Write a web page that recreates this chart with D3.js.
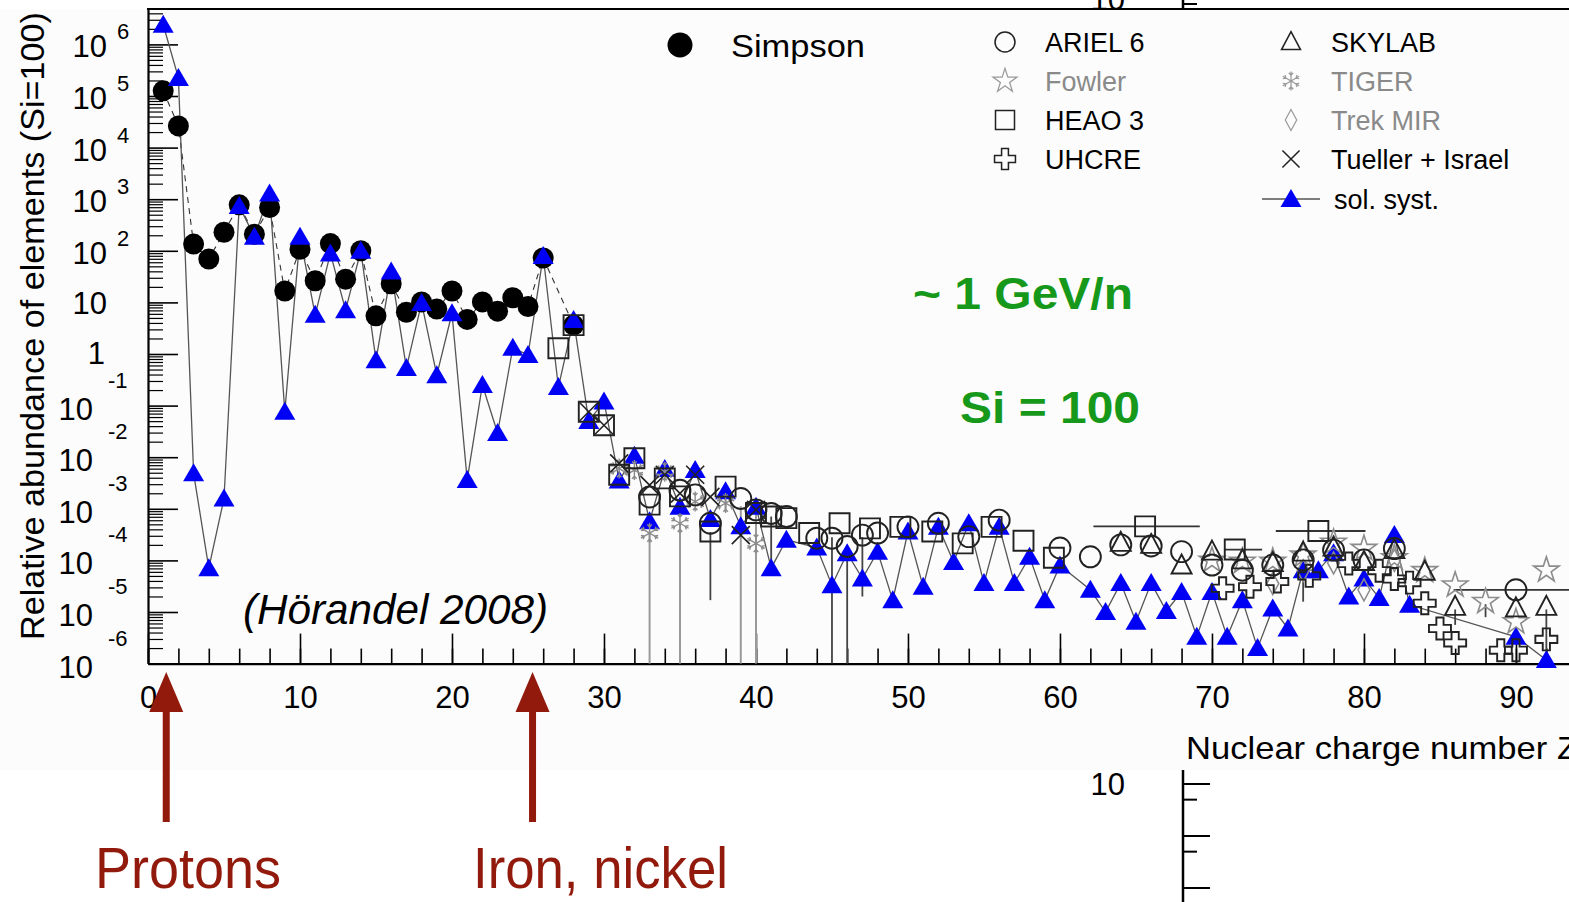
<!DOCTYPE html>
<html>
<head>
<meta charset="utf-8">
<script src="https://cdn.jsdelivr.net/npm/d3@7"></script>
<style>
  html, body { margin: 0; padding: 0; background: #fff; }
  svg { display: block; }
  text { font-family: "Liberation Sans", Arial, Helvetica, sans-serif; }
</style>
</head>
<body>
<svg id="chart" width="1569" height="902"></svg>
<script>
// Relative abundances, [Z, log10(abundance)] with Si = 100.
const solarSystem = [
  [1, 6.38], [2, 5.35], [3, -2.31], [4, -4.15], [5, -2.80], [6, 2.87], [7, 2.27],
  [8, 3.11], [9, -1.12], [10, 2.27], [11, 0.76], [12, 1.95], [13, 0.85], [14, 2.0],
  [15, -0.12], [16, 1.6], [17, -0.27], [18, 0.99], [19, -0.41], [20, 0.79], [21, -2.44],
  [22, -0.6], [23, -1.53], [24, 0.12], [25, -0.02], [26, 1.9], [27, -0.64], [28, 0.66],
  [29, -1.3], [30, -0.92], [31, -2.45], [32, -1.97], [33, -3.24], [34, -2.23], [35, -2.96],
  [36, -2.25], [37, -3.2], [38, -2.66], [39, -3.34], [40, -2.96], [41, -4.15], [42, -3.6],
  [44, -3.75], [45, -4.48], [46, -3.86], [47, -4.35], [48, -3.83], [49, -4.77], [50, -3.44],
  [51, -4.51], [52, -3.35], [53, -4.03], [54, -3.28], [55, -4.44], [56, -3.35], [57, -4.44],
  [58, -3.93], [59, -4.77], [60, -4.1], [62, -4.57], [63, -5.0], [64, -4.44], [65, -5.19],
  [66, -4.44], [67, -4.98], [68, -4.61], [69, -5.48], [70, -4.61], [71, -5.48], [72, -4.77],
  [73, -5.70], [74, -4.93], [75, -5.32], [76, -4.19], [77, -4.19], [78, -3.86], [79, -4.70],
  [80, -4.35], [81, -4.73], [82, -3.51], [83, -4.86], [90, -5.48], [92, -5.93]
];

const simpson = [
  [1, 5.10], [2, 4.42], [3, 2.13], [4, 1.84], [5, 2.36], [6, 2.89], [7, 2.32], [8, 2.84],
  [9, 1.22], [10, 2.03], [11, 1.42], [12, 2.14], [13, 1.45], [14, 2.0], [15, 0.74],
  [16, 1.36], [17, 0.81], [18, 1.01], [19, 0.87], [20, 1.22], [21, 0.67], [22, 1.01],
  [23, 0.83], [24, 1.09], [25, 0.92], [26, 1.86], [28, 0.56]
];

const heao3 = [
  [27, 0.11], [28, 0.56], [29, -1.12], [30, -1.38], [31, -2.34], [32, -2.02], [33, -2.92],
  [34, -2.41], [35, -2.76], [37, -3.44], [38, -2.57], [40, -3.08], [41, -3.15], [42, -3.18],
  [43.5, -3.47], [45.5, -3.28], [47.5, -3.38], [49.5, -3.35], [51.6, -3.44], [53.6, -3.67],
  [55.5, -3.35], [57.6, -3.62], [59.6, -3.95], [65.6, -3.34], [71.5, -3.79], [77, -3.43]
];
// Charge ranges of the combined HEAO 3 bins: [Z, Zlow, Zhigh].
const heao3Ranges = [[65.6, 62.2, 69.2], [71.5, 70.8, 73.3], [77, 74.2, 80.1]];

const ariel6 = [
  [33, -2.77], [35, -2.64], [36, -2.73], [37, -3.28], [39, -2.8], [40, -3.02], [41, -3.09],
  [42, -3.15], [44, -3.57], [45, -3.57], [46, -3.73], [47, -3.51], [48, -3.47], [50, -3.35],
  [52, -3.28], [54, -3.54], [56, -3.22], [60, -3.76], [62, -3.93], [64, -3.70], [66, -3.72],
  [68, -3.83], [70, -4.09], [72, -4.19], [74, -4.09], [76, -3.99], [78, -3.8], [80, -3.99],
  [82, -3.77], [90, -4.57]
];
const ariel6Ranges = [[90, 85.9, 96]];

const fowler = [
  [70, -4.0], [72, -4.02], [74, -4.02], [76, -3.9], [78, -3.65], [80, -3.77], [82, -3.95],
  [84, -4.2], [86, -4.48], [88, -4.8], [90, -5.19], [92, -4.19]
];

const uhcre = [
  [70.7, -4.54], [72.5, -4.51], [74.3, -4.41], [76.4, -4.3], [79, -4.06], [81, -4.2],
  [82, -4.36], [83, -4.43], [84, -4.83], [85, -5.32], [86, -5.6], [89, -5.74], [90, -5.74],
  [92, -5.53]
];

const skylab = [
  [64, -3.66], [66, -3.70], [68, -4.1], [70, -3.83], [72, -4.0], [74, -4.05], [76, -3.85],
  [78, -3.75], [80, -4.03], [82, -3.8], [84, -4.22], [86, -4.9], [90, -4.93], [92, -4.9]
];

const tiger = [
  [31, -2.22], [32, -2.25], [33, -3.47], [34, -2.28], [35, -3.28], [36, -2.86], [38, -2.89],
  [40, -3.67]
];

const trekMir = [[74, -4.45], [76, -4.2], [78, -4.05], [80, -4.57], [82, -4.0]];

const tuellerIsrael = [
  [29, -1.12], [30, -1.38], [31, -2.12], [33, -2.54], [34, -2.34], [35, -2.7], [36, -2.34],
  [37, -2.77], [39, -3.51], [40, -3.02]
];

// Vertical uncertainty bars, [Z, log10 low, log10 high].
const tigerBars = [[33, -6, -3.45], [35, -6, -3.25], [39, -6, -2.95], [40, -6, -3.0], [38, -3.05, -2.75]];
const otherBars = [
  [45, -6, -3.55], [46, -6, -3.7], [37, -4.77, -3.45], [41, -4.0, -3.15], [47, -4.7, -3.55],
  [76, -4.8, -4.0], [86, -5.25, -4.95], [88, -5.1, -4.85], [92, -5.75, -4.95]
];

const xTickLabels = d3.range(0, 91, 10);
const yDecades = d3.range(-6, 7);

const legendRows = [
  {label: 'ARIEL 6', shape: 'circle', grey: false, col: 0},
  {label: 'Fowler', shape: 'star', grey: true, col: 0},
  {label: 'HEAO 3', shape: 'square', grey: false, col: 0},
  {label: 'UHCRE', shape: 'plus', grey: false, col: 0},
  {label: 'SKYLAB', shape: 'openTri', grey: false, col: 1},
  {label: 'TIGER', shape: 'flake', grey: true, col: 1},
  {label: 'Trek MIR', shape: 'diamond', grey: true, col: 1},
  {label: 'Tueller + Israel', shape: 'cross', grey: false, col: 1},
];

const svg = d3.select('#chart');
const GREY = '#8c8c8c';
const BLUE = '#0000f5';
const RED = '#921a0c';

// ---- second axis sitting behind the main panel ----
const yBack = d3.scaleLog().domain([1e-9, 1e-7]).range([888, 784]);
const back = svg.append('g');
back.append('line').attr('x1', 1183).attr('x2', 1183).attr('y1', 0).attr('y2', 902)
    .attr('stroke', '#000').attr('stroke-width', 2.5);
back.selectAll('.bt').data([1e-9, 5e-9, 1e-8, 5e-8, 1e-7]).join('line')
    .attr('x1', 1183).attr('y1', d => yBack(d)).attr('y2', d => yBack(d))
    .attr('x2', d => (String(d)[0] === '1' ? 1210 : 1197))
    .attr('stroke', '#000').attr('stroke-width', 2);
back.append('text').attr('x', 1125).attr('y', yBack(1e-7) + 11)
    .attr('text-anchor', 'end').attr('font-size', 31).text('10');
back.append('text').attr('x', 1130).attr('y', yBack(1e-7) - 17)
    .attr('font-size', 22).text('-7');
back.append('text').attr('x', 1125).attr('y', 10).attr('text-anchor', 'end')
    .attr('font-size', 31).text('10');
back.append('line').attr('x1', 1183).attr('x2', 1197).attr('y1', 4).attr('y2', 4)
    .attr('stroke', '#000').attr('stroke-width', 2);

// ---- main panel ----
svg.append('rect').attr('x', 0).attr('y', 9).attr('width', 1569).attr('height', 761)
    .attr('fill', '#fcfcfc');

const x = d3.scaleLinear().domain([0, 93.49]).range([148, 1569]);
const y = d3.scaleLog().domain([1e-6, Math.pow(10, 6.686)]).range([663.6, 9]);
const yv = lg => y(Math.pow(10, lg));

// axes
const minorX = d3.range(0, 94, 2);
svg.append('g').attr('transform', 'translate(0,663.6)')
    .call(d3.axisBottom(x).tickValues(minorX).tickSize(-15).tickSizeOuter(0).tickFormat(''))
    .call(g => g.select('.domain').remove());
const xAxis = svg.append('g').attr('transform', 'translate(0,663.6)')
    .call(d3.axisBottom(x).tickValues(xTickLabels).tickSize(-30).tickSizeOuter(0)
        .tickPadding(22).tickFormat(d3.format('d')));
xAxis.select('.domain').attr('stroke-width', 2.2);
xAxis.selectAll('text').attr('font-size', 31).attr('fill', '#000')
    .attr('font-family', '"Liberation Sans", Arial, sans-serif');
svg.selectAll('.tick line').attr('stroke-width', 1.6);

const minorY = [];
yDecades.concat([7]).forEach(n => {
  for (let m = 2; m <= 9; m++) {
    const v = m * Math.pow(10, n - 1);
    if (v > 1e-6 && v < Math.pow(10, 6.686)) minorY.push(v);
  }
});
svg.append('g').attr('transform', 'translate(148,0)')
    .call(d3.axisLeft(y).tickValues(minorY).tickSize(-15).tickSizeOuter(0).tickFormat(''))
    .call(g => g.select('.domain').remove())
    .selectAll('line').attr('stroke-width', 1.2);
const yAxis = svg.append('g').attr('transform', 'translate(148,0)')
    .call(d3.axisLeft(y).tickValues(yDecades.map(n => Math.pow(10, n)))
        .tickSize(-30).tickSizeOuter(0).tickFormat(''));
yAxis.select('.domain').attr('stroke-width', 2.2);
yAxis.selectAll('line').attr('stroke-width', 1.6);

svg.append('line').attr('x1', 147).attr('x2', 1569).attr('y1', 9).attr('y2', 9)
    .attr('stroke', '#000').attr('stroke-width', 2.2);

// decade labels written as 10 with a raised exponent
const yLab = svg.append('g').attr('fill', '#000');
yDecades.forEach(n => {
  const ty = y(Math.pow(10, n));
  if (n === 0) {
    yLab.append('text').attr('x', 105).attr('y', ty + 10).attr('text-anchor', 'end')
        .attr('font-size', 31).text('1');
  } else if (n === 1) {
    yLab.append('text').attr('x', 107).attr('y', ty + 12).attr('text-anchor', 'end')
        .attr('font-size', 31).text('10');
  } else if (n > 1) {
    yLab.append('text').attr('x', 107).attr('y', ty + 13).attr('text-anchor', 'end')
        .attr('font-size', 31).text('10');
    yLab.append('text').attr('x', 117).attr('y', ty - 5).attr('font-size', 22).text(n);
  } else {
    yLab.append('text').attr('x', 93).attr('y', ty + 14).attr('text-anchor', 'end')
        .attr('font-size', 31).text('10');
    yLab.append('text').attr('x', 108).attr('y', ty - 18).attr('font-size', 22).text(n);
  }
});

svg.append('text')
    .attr('transform', 'translate(44,326) rotate(-90)')
    .attr('text-anchor', 'middle').attr('font-size', 33)
    .attr('textLength', 628).attr('lengthAdjust', 'spacingAndGlyphs')
    .text('Relative abundance of elements (Si=100)');

// ---- marker shapes ----
function flakePath() {
  const p = d3.path();
  for (let k = 0; k < 6; k++) {
    const a = Math.PI / 2 + k * Math.PI / 3;
    const ex = 10 * Math.cos(a), ey = -10 * Math.sin(a);
    p.moveTo(0, 0); p.lineTo(ex, ey);
    const bx = 6 * Math.cos(a), by = -6 * Math.sin(a);
    [-0.7, 0.7].forEach(o => {
      p.moveTo(bx, by);
      p.lineTo(bx + 3.5 * Math.cos(a + o), by - 3.5 * Math.sin(a + o));
    });
  }
  return p.toString();
}
const shapes = {
  circle: 'M10.5,0A10.5,10.5 0 1,1 -10.5,0A10.5,10.5 0 1,1 10.5,0Z',
  square: 'M-10,-10H10V10H-10Z',
  openTri: 'M0,-11L10,8L-10,8Z',
  plus: 'M-3.6,-11H3.6V-3.6H11V3.6H3.6V11H-3.6V3.6H-11V-3.6H-3.6Z',
  star: d3.symbol(d3.symbolStar, 200)(),
  diamond: 'M0,-11L6,0L0,11L-6,0Z',
  cross: 'M-9,-9L9,9M9,-9L-9,9',
  flake: flakePath(),
  tri: 'M0,-10L10.5,8L-10.5,8Z'
};

function drawOpen(data, shape, colour, width) {
  svg.append('g').selectAll('path').data(data).join('path')
      .attr('transform', d => `translate(${x(d[0])},${yv(d[1])})`)
      .attr('d', shapes[shape])
      .attr('fill', 'none').attr('stroke', colour).attr('stroke-width', width);
}

// ---- connecting lines ----
const line = d3.line().x(d => x(d[0])).y(d => yv(d[1]));
svg.append('path').datum(simpson).attr('d', line).attr('fill', 'none')
    .attr('stroke', '#333').attr('stroke-width', 1.1).attr('stroke-dasharray', '6,5');
svg.append('path').datum(solarSystem).attr('d', line).attr('fill', 'none')
    .attr('stroke', '#555').attr('stroke-width', 1.3);

// ---- uncertainty bars ----
svg.append('g').selectAll('line').data(tigerBars).join('line')
    .attr('x1', d => x(d[0])).attr('x2', d => x(d[0]))
    .attr('y1', d => yv(d[1])).attr('y2', d => yv(d[2]))
    .attr('stroke', '#9a9a9a').attr('stroke-width', 2);
svg.append('g').selectAll('line').data(otherBars).join('line')
    .attr('x1', d => x(d[0])).attr('x2', d => x(d[0]))
    .attr('y1', d => yv(d[1])).attr('y2', d => yv(d[2]))
    .attr('stroke', '#444').attr('stroke-width', 1.8);
const valueAt = (data, z) => data.find(d => d[0] === z)[1];
svg.append('g').selectAll('line').data(heao3Ranges).join('line')
    .attr('x1', d => x(d[1])).attr('x2', d => x(d[2]))
    .attr('y1', d => yv(valueAt(heao3, d[0]))).attr('y2', d => yv(valueAt(heao3, d[0])))
    .attr('stroke', '#333').attr('stroke-width', 1.8);
svg.append('g').selectAll('line').data(ariel6Ranges).join('line')
    .attr('x1', d => x(d[1])).attr('x2', d => x(d[2]))
    .attr('y1', d => yv(valueAt(ariel6, d[0]))).attr('y2', d => yv(valueAt(ariel6, d[0])))
    .attr('stroke', '#333').attr('stroke-width', 1.8);

// ---- markers ----
svg.append('g').selectAll('circle').data(simpson).join('circle')
    .attr('cx', d => x(d[0])).attr('cy', d => yv(d[1])).attr('r', 10.5).attr('fill', '#000');
svg.append('g').selectAll('path').data(solarSystem).join('path')
    .attr('transform', d => `translate(${x(d[0])},${yv(d[1])})`)
    .attr('d', shapes.tri).attr('fill', BLUE);

drawOpen(tiger, 'flake', GREY, 1.4);
drawOpen(fowler, 'star', GREY, 1.6);
drawOpen(trekMir, 'diamond', GREY, 1.5);
drawOpen(heao3, 'square', '#222', 1.9);
drawOpen(ariel6, 'circle', '#222', 1.9);
drawOpen(skylab, 'openTri', '#222', 1.9);
drawOpen(uhcre, 'plus', '#222', 1.9);
drawOpen(tuellerIsrael, 'cross', '#222', 1.6);

// ---- legend ----
const legend = svg.append('g');
legend.append('circle').attr('cx', 680).attr('cy', 45).attr('r', 12.5).attr('fill', '#000');
legend.append('text').attr('x', 731).attr('y', 57).attr('font-size', 32)
    .attr('textLength', 134).attr('lengthAdjust', 'spacingAndGlyphs').text('Simpson');
legendRows.forEach((r, i) => {
  const row = r.col === 0 ? i : i - 4;
  const cy = 42 + row * 39;
  const mx = r.col === 0 ? 1005 : 1291;
  const colour = r.grey ? '#999' : '#222';
  legend.append('path').attr('transform', `translate(${mx},${cy}) scale(0.95)`)
      .attr('d', shapes[r.shape]).attr('fill', 'none').attr('stroke', colour)
      .attr('stroke-width', r.grey ? 1.3 : 1.6);
  legend.append('text').attr('x', mx + 40).attr('y', cy + 10).attr('font-size', 27)
      .attr('fill', r.grey ? '#8a8a8a' : '#000').text(r.label);
});
legend.append('line').attr('x1', 1262).attr('x2', 1320).attr('y1', 199).attr('y2', 199)
    .attr('stroke', '#555').attr('stroke-width', 1.5);
legend.append('path').attr('transform', 'translate(1291,199)').attr('d', shapes.tri)
    .attr('fill', BLUE);
legend.append('text').attr('x', 1334).attr('y', 209).attr('font-size', 27).text('sol. syst.');

// ---- annotations ----
svg.append('text').attr('x', 913).attr('y', 309).attr('font-size', 45).attr('font-weight', 'bold')
    .attr('fill', '#16991a').attr('textLength', 220).attr('lengthAdjust', 'spacingAndGlyphs')
    .text('~ 1 GeV/n');
svg.append('text').attr('x', 960).attr('y', 423).attr('font-size', 45).attr('font-weight', 'bold')
    .attr('fill', '#16991a').attr('textLength', 180).attr('lengthAdjust', 'spacingAndGlyphs')
    .text('Si = 100');
svg.append('text').attr('x', 243).attr('y', 624).attr('font-size', 42)
    .attr('font-family', 'Lato, "Open Sans", sans-serif').attr('font-style', 'italic')
    .attr('textLength', 305).attr('lengthAdjust', 'spacingAndGlyphs')
    .text('(Hörandel 2008)');

svg.append('text').attr('x', 1186).attr('y', 759).attr('font-size', 32)
    .attr('textLength', 392).attr('lengthAdjust', 'spacingAndGlyphs')
    .text('Nuclear charge number Z');

const arrows = [
  {z: 1.2, label: 'Protons', tx: 95, width: 186},
  {z: 25.3, label: 'Iron, nickel', tx: 473, width: 255},
];
arrows.forEach(a => {
  const ax = x(a.z);
  svg.append('rect').attr('x', ax - 3.5).attr('y', 700).attr('width', 7).attr('height', 122)
      .attr('fill', RED);
  svg.append('path').attr('d', `M${ax},672L${ax + 17},712L${ax - 17},712Z`).attr('fill', RED);
  svg.append('text').attr('x', a.tx).attr('y', 888).attr('font-size', 58)
      .attr('font-family', 'Lato, "Open Sans", sans-serif').attr('fill', RED)
      .attr('textLength', a.width).attr('lengthAdjust', 'spacingAndGlyphs').text(a.label);
});
</script>
</body>
</html>
